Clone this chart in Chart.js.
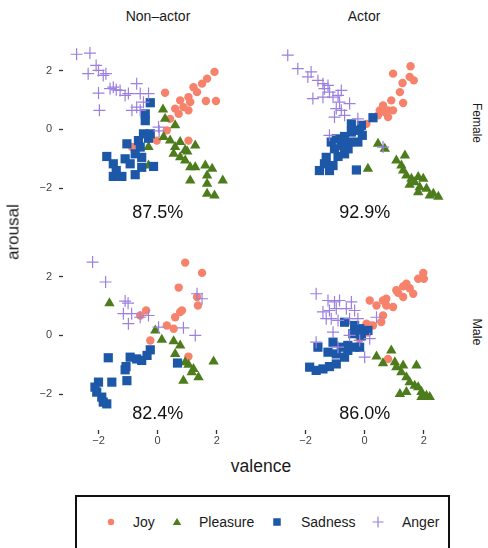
<!DOCTYPE html>
<html><head><meta charset="utf-8">
<script src="https://cdn.jsdelivr.net/npm/chart.js@4/dist/chart.umd.min.js"></script>
<style>
body{margin:0;background:#fff;width:488px;height:548px;overflow:hidden;position:relative;font-family:"Liberation Sans",Arial,sans-serif;color:#1a1a1a}
canvas{position:absolute}
.t{position:absolute;white-space:nowrap;line-height:1}
</style></head><body>
<canvas id="c0" width="242" height="185" style="left:0;top:39px;width:242px;height:185px"></canvas>
<canvas id="c1" width="179" height="185" style="left:270px;top:39px;width:179px;height:185px"></canvas>
<canvas id="c2" width="242" height="207" style="left:0;top:245px;width:242px;height:207px"></canvas>
<canvas id="c3" width="179" height="207" style="left:270px;top:245px;width:179px;height:207px"></canvas>
<div id="labels"></div>
<div id="legend" style="position:absolute;left:75px;top:495px;width:371px;height:60px;border:2px solid #111;"></div>
<script>
// ---- data ----
const categories = ['Joy','Pleasure','Sadness','Anger'];
const columnLabels = ['Non\u2013actor','Actor'];
const rowLabels = ['Female','Male'];
const accuracyLabels = ['87.5%','92.9%','82.4%','86.0%'];
const tickValues = [-2, 0, 2];

const nonActorFemaleJoy = [[1.92,1.96],[1.67,1.73],[1.5,1.56],[1.21,1.44],[1.33,1.27],[0.25,1.25],[1.04,1.1],[0.76,0.99],[1.1,0.93],[1.63,0.97],[1.97,0.97],[0.59,0.71],[0.87,0.76],[1.04,0.65],[0.71,0.53],[0.42,0.36],[0.31,-0.03],[-0.03,-0.38],[1.04,-0.38],[-0.87,-0.6]];
const nonActorFemalePleasure = [[0.18,0.68],[0.25,0.36],[0.59,0.14],[0.2,-0.26],[0.42,-0.38],[0.76,-0.43],[0.59,-0.6],[0.93,-0.7],[1.27,-0.55],[0.54,-0.83],[0.76,-0.95],[0.93,-1.06],[1.1,-1.29],[1.27,-1.29],[1.61,-1.23],[1.84,-1.34],[1.67,-1.57],[2.2,-1.74],[1.67,-1.85],[1.1,-1.74],[1.67,-2.19],[1.92,-2.25],[-0.31,-0.6],[-0.31,-1.23],[1.0,-0.75]];
const nonActorFemaleSadness = [[-0.25,0.91],[-0.42,0.53],[-0.42,0.3],[-0.48,-0.15],[-0.25,-0.15],[-0.65,-0.38],[-0.31,-0.3],[-1.04,-0.49],[-0.59,-0.6],[-0.76,-0.83],[-1.72,-0.92],[-1.1,-1.0],[-0.54,-0.95],[-1.5,-1.17],[-0.93,-1.17],[-0.54,-1.29],[-0.14,-1.26],[-1.4,-1.4],[-1.5,-1.6],[-1.21,-1.6],[-0.76,-1.54]];
const nonActorFemaleAnger = [[-2.74,2.56],[-2.29,2.6],[-2.35,1.9],[-2.08,2.18],[-2.0,2.01],[-1.84,1.84],[-2.0,1.24],[-1.97,0.65],[-1.61,1.39],[-1.5,1.44],[-1.27,1.33],[-1.1,1.16],[-0.99,1.22],[-0.71,1.56],[-0.59,1.22],[-0.31,1.22],[-0.87,0.65],[-0.71,0.76],[-0.59,0.65],[-0.48,0.93],[0.03,0.08],[0.05,-0.05],[-1.4,1.35],[-1.75,1.9]];

const actorFemaleJoy = [[1.55,2.15],[0.96,1.9],[1.52,1.79],[1.66,1.67],[1.28,1.58],[1.19,1.27],[0.9,0.99],[1.3,0.9],[0.62,0.82],[0.79,0.65],[0.51,0.65],[0.68,0.59],[0.96,0.65],[0.45,0.48],[0.79,0.42],[0.06,0.19],[-0.11,0.14]];
const actorFemalePleasure = [[0.45,-0.49],[0.68,-0.66],[0.11,-1.34],[1.36,-0.89],[1.07,-1.06],[1.24,-1.23],[1.3,-1.4],[1.41,-1.57],[1.58,-1.68],[1.81,-1.62],[1.98,-1.68],[1.69,-1.8],[1.52,-1.88],[1.86,-1.97],[2.09,-2.02],[1.81,-2.14],[2.32,-2.19],[2.49,-2.29],[2.2,-2.25]];
const actorFemaleSadness = [[0.28,0.4],[-0.45,0.19],[-0.11,0.14],[-0.17,-0.03],[-0.45,-0.09],[-0.08,-0.2],[-0.68,-0.24],[-0.96,-0.32],[-1.13,-0.43],[-0.51,-0.43],[-0.23,-0.43],[-0.79,-0.55],[-1.02,-0.66],[-0.56,-0.66],[-1.3,-0.95],[-0.9,-0.92],[-0.68,-0.83],[-1.36,-1.17],[-1.53,-1.4],[-1.19,-1.4],[-0.28,-1.38],[-1.07,-1.23]];
const actorFemaleAnger = [[-2.6,2.53],[-2.26,2.07],[-1.81,1.96],[-1.92,1.79],[-1.58,1.67],[-1.41,1.56],[-1.36,1.39],[-1.19,1.27],[-1.75,1.05],[-1.41,1.1],[-1.07,1.1],[-0.79,1.33],[-0.85,0.93],[-0.51,0.88],[-0.96,0.71],[-0.79,0.65],[-1.02,0.42],[-0.68,0.48],[-0.23,0.36],[-1.19,-0.2],[0.62,-0.6],[-1.24,1.5],[-0.9,1.16]];

const nonActorMaleJoy = [[0.93,2.48],[1.5,2.13],[0.71,1.63],[1.33,1.31],[1.36,1.02],[0.82,0.85],[0.76,0.8],[0.59,0.62],[-0.39,0.85],[-0.59,0.68],[0.31,0.34],[0.54,0.23],[-0.25,-0.17],[1.04,-0.72]];
const nonActorMalePleasure = [[-1.63,1.1],[-0.08,0.17],[0.14,-0.15],[0.54,-0.2],[0.76,-0.34],[0.59,-0.63],[0.93,-0.91],[1.04,-1.0],[1.21,-1.14],[1.15,-1.25],[1.89,-0.89],[1.38,-1.42],[0.87,-1.54]];
const nonActorMaleSadness = [[-1.67,-0.76],[-0.93,-0.74],[-0.71,-0.8],[-0.54,-0.85],[-0.25,-0.49],[-0.36,-0.68],[-1.07,-1.06],[-1.1,-1.17],[-1.04,-1.54],[-1.55,-1.59],[-2.0,-1.59],[-2.12,-1.76],[-2.06,-1.93],[-1.89,-2.1],[-1.84,-2.27],[-1.72,-2.33],[0.67,-0.94]];
const nonActorMaleAnger = [[-2.2,2.5],[-1.76,1.82],[-1.1,1.17],[-1.0,1.1],[-1.16,0.74],[-0.88,0.74],[-0.59,0.62],[-0.31,0.68],[-0.99,0.4],[0.03,0.28],[0.87,0.26],[1.27,0.0],[1.33,1.42],[1.5,1.25]];

const actorMaleJoy = [[1.98,2.13],[1.81,1.93],[2.0,1.93],[1.41,1.76],[1.3,1.67],[1.52,1.61],[1.07,1.54],[1.13,1.45],[1.64,1.42],[1.3,1.31],[0.73,1.25],[0.62,1.19],[0.17,1.19],[0.4,1.02],[0.73,1.02],[0.96,0.97],[0.62,0.68],[0.56,0.46],[0.28,0.34],[0.06,0.4],[0.17,0.34],[-0.17,-0.11],[0.79,-0.8],[0.11,0.1]];
const actorMalePleasure = [[0.9,-0.51],[0.4,-0.72],[0.62,-0.95],[1.02,-0.91],[1.07,-1.08],[1.75,-1.02],[1.24,-1.25],[1.41,-1.42],[1.52,-1.59],[1.69,-1.71],[1.81,-1.76],[1.92,-1.93],[2.09,-2.05],[2.2,-2.1],[1.19,-1.99],[1.41,-1.93],[1.92,-2.1],[1.3,-1.02]];
const actorMaleSadness = [[-0.68,0.45],[-0.34,0.34],[-0.17,0.23],[0.11,0.17],[-0.4,0.06],[-0.11,0.0],[-1.58,-0.4],[-1.07,-0.23],[-0.79,-0.4],[-0.57,-0.34],[-0.34,-0.4],[-0.17,-0.4],[-1.24,-0.57],[-0.96,-0.63],[-0.68,-0.74],[-1.86,-1.08],[-1.64,-1.19],[-1.41,-1.14],[-1.19,-1.06],[-0.96,-0.97],[-0.57,-0.51]];
const actorMaleAnger = [[-1.64,1.42],[-1.24,1.19],[-1.02,1.14],[-0.85,1.19],[-0.45,1.14],[-1.41,0.8],[-1.19,0.85],[-0.96,0.91],[-0.62,0.91],[-0.34,0.85],[-1.13,0.57],[-0.9,0.51],[-0.51,0.57],[-0.23,0.57],[0.4,0.62],[-1.07,0.11],[-0.51,0.0],[0.17,-0.11],[-1.64,-0.23],[-0.9,-0.4],[0.0,-0.74],[-0.17,-0.17],[-1.3,0.57]];

// ---- styles ----
const FONT = '"Liberation Sans", Arial, sans-serif';
const colors = {Joy:'#f7826c', Pleasure:'#4d7c1c', Sadness:'#1d58a8', Anger:'#9b80e0'};
const shapes = {Joy:'circle', Pleasure:'triangle', Sadness:'rect', Anger:'cross'};
const radii = {Joy:4.2, Pleasure:6, Sadness:6.5, Anger:6};
const orders = {Joy:3, Pleasure:2, Sadness:1, Anger:0};

const panels = [
  {id:'c0', sets:[nonActorFemaleJoy,nonActorFemalePleasure,nonActorFemaleSadness,nonActorFemaleAnger], showY:true, showX:false, accY:-2.83},
  {id:'c1', sets:[actorFemaleJoy,actorFemalePleasure,actorFemaleSadness,actorFemaleAnger], showY:false, showX:false, accY:-2.83},
  {id:'c2', sets:[nonActorMaleJoy,nonActorMalePleasure,nonActorMaleSadness,nonActorMaleAnger], showY:true, showX:true, accY:-2.66},
  {id:'c3', sets:[actorMaleJoy,actorMalePleasure,actorMaleSadness,actorMaleAnger], showY:false, showX:true, accY:-2.66}
];

const fmt = v => v < 0 ? '\u2212' + Math.abs(v) : String(v);

const accPlugin = {
  id:'acc',
  afterDatasetsDraw(chart, args, opts){
    const {ctx} = chart; const x = chart.scales.x, y = chart.scales.y;
    ctx.save();
    ctx.font = '18px ' + FONT; ctx.fillStyle = '#111';
    ctx.textAlign = 'center'; ctx.textBaseline = 'middle';
    ctx.fillText(opts.text, x.getPixelForValue(0), y.getPixelForValue(opts.y));
    ctx.restore();
  }
};

function axis(show, min, max, fitFn, pad){
  return {
    type:'linear', min, max, display:show,
    afterBuildTicks: s => { s.ticks = tickValues.map(v => ({value:v})); },
    afterFit: s => {
      s.paddingTop = 0; s.paddingBottom = 0; s.paddingLeft = 0; s.paddingRight = 0;
      if (show) fitFn(s);
    },
    grid:{display:true, drawOnChartArea:false, drawTicks:true, tickLength:4, tickColor:'#333', tickWidth:1.3},
    border:{display:false},
    ticks:{color:'#444', font:{size:11, family:FONT}, padding:pad, maxRotation:0, autoSkip:false, callback: v => fmt(v)}
  };
}

panels.forEach((p, i) => {
  const datasets = categories.map((c, k) => ({
    label:c,
    data:p.sets[k].map(d => ({x:d[0], y:d[1]})),
    pointStyle:shapes[c],
    pointRadius:radii[c],
    pointBackgroundColor:colors[c],
    pointBorderColor:colors[c],
    pointBorderWidth:c === 'Anger' ? 1.2 : 0,
    order:orders[c]
  }));
  new Chart(document.getElementById(p.id), {
    type:'scatter',
    data:{datasets},
    options:{
      responsive:false, maintainAspectRatio:false, animation:false, devicePixelRatio:1,
      layout:{padding:0, autoPadding:false},
      scales:{
        x: axis(p.showX, -3.2, 2.85, s => { s.height = 22; }, 0),
        y: axis(p.showY, -3.22, 3.08, s => { s.width = 63; }, 7)
      },
      plugins:{legend:{display:false}, tooltip:{enabled:false}, acc:{text:accuracyLabels[i], y:p.accY}},
      clip:false
    },
    plugins:[accPlugin]
  });
});

// ---- text labels ----
const L = document.getElementById('labels');
function addText(txt, css){ const d = document.createElement('div'); d.className='t'; d.textContent = txt; d.style.cssText += css; L.appendChild(d); }
addText(columnLabels[0], 'left:158px;top:16px;font-size:14px;transform:translate(-50%,-50%);');
addText(columnLabels[1], 'left:364px;top:16px;font-size:14px;transform:translate(-50%,-50%);');
addText(rowLabels[0], 'left:477px;top:123px;font-size:12px;transform:translate(-50%,-50%) rotate(90deg);');
addText(rowLabels[1], 'left:477px;top:332px;font-size:12.5px;transform:translate(-50%,-50%) rotate(90deg);');
addText('arousal', 'left:13px;top:232px;font-size:17px;transform:translate(-50%,-50%) rotate(-90deg);');
addText('valence', 'left:261px;top:467px;font-size:17.5px;transform:translate(-50%,-50%);');

// ---- legend ----
const lg = document.getElementById('legend');
const legendX = {Joy:[34,56], Pleasure:[100,122], Sadness:[200,224], Anger:[301,325]};
categories.forEach(c => {
  const cv = document.createElement('canvas');
  cv.width = 14; cv.height = 14;
  cv.style.cssText = 'left:' + (legendX[c][0]-7) + 'px;top:' + (25-7) + 'px;width:14px;height:14px;';
  lg.appendChild(cv);
  const ctx = cv.getContext('2d');
  ctx.fillStyle = colors[c]; ctx.strokeStyle = colors[c]; ctx.lineWidth = 1.2;
  const r = {Joy:3.2, Pleasure:5, Sadness:5, Anger:5.5}[c];
  ctx.beginPath();
  if (c==='Joy'){ ctx.arc(7,7,r,0,Math.PI*2); ctx.fill(); }
  else if (c==='Pleasure'){ ctx.moveTo(7,7-r*0.8); ctx.lineTo(7+r*0.85,7+r*0.6); ctx.lineTo(7-r*0.85,7+r*0.6); ctx.closePath(); ctx.fill(); }
  else if (c==='Sadness'){ ctx.fillRect(7-r*0.75,7-r*0.75,r*1.5,r*1.5); }
  else { ctx.moveTo(7-r,7); ctx.lineTo(7+r,7); ctx.moveTo(7,7-r); ctx.lineTo(7,7+r); ctx.stroke(); }
  const t = document.createElement('div');
  t.className = 't'; t.textContent = c;
  t.style.cssText += 'left:' + legendX[c][1] + 'px;top:25px;font-size:14px;transform:translateY(-50%);';
  lg.appendChild(t);
});
</script>
</body></html>
